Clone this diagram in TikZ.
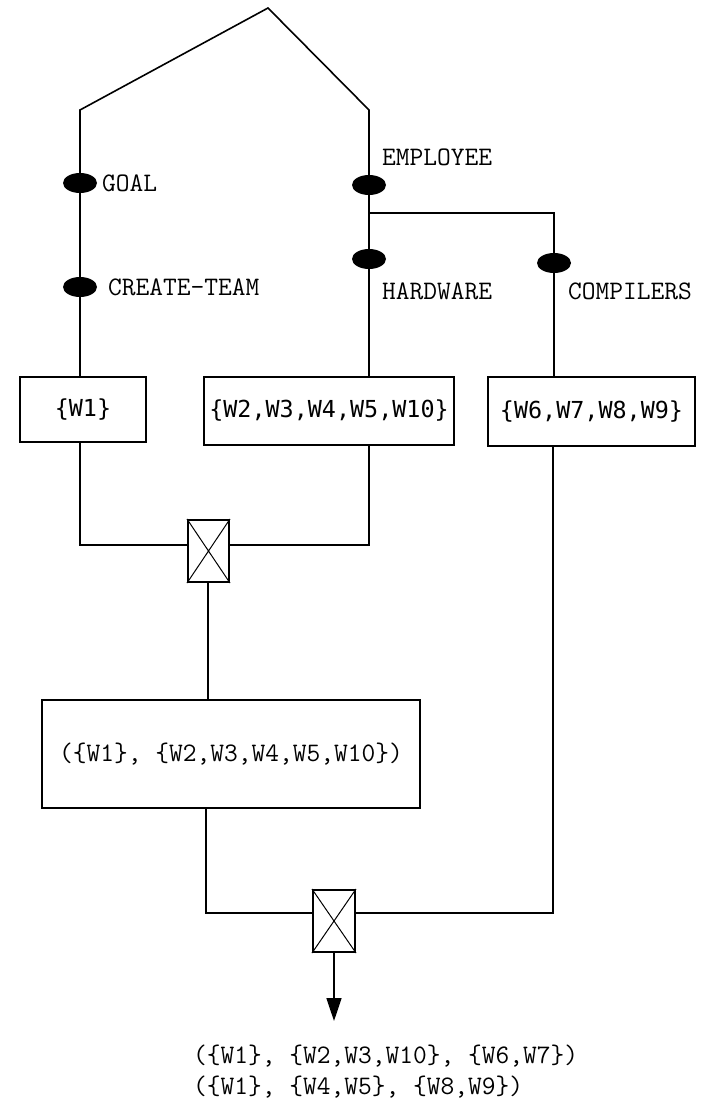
\documentclass[tikz,border=0pt]{standalone}
\usepackage{fontspec}
\newfontfamily\setfont{DejaVu Sans Mono}
\usetikzlibrary{shapes.geometric,arrows.meta}
\tikzset{
  wire/.style={line width=1.6pt},
  term/.style={ellipse, fill=black, minimum width=34pt, minimum height=20pt, inner sep=0pt},
  lbl/.style={anchor=west, inner sep=0pt, font=\ttfamily\fontsize{26.7}{30}\selectfont},
  setbox/.style={draw, line width=1.8pt, inner sep=0pt, font=\setfont\fontsize{23.4}{28}\selectfont},
  joinbox/.style={draw, line width=2pt, minimum width=41pt, minimum height=62pt, inner sep=0pt},
  outtxt/.style={anchor=west, inner sep=0pt, font=\ttfamily\fontsize{26.7}{30}\selectfont}
}
\newcommand{\crossbox}[1]{%
  \draw[line width=1pt] (#1.north west) -- (#1.south east) (#1.north east) -- (#1.south west);}
\begin{document}
\begin{tikzpicture}[x=1pt, y=-1pt]
\useasboundingbox (0,0) rectangle (707,1102);

% roof of the tree
\coordinate (apex) at (268,8);
\coordinate (lcorner) at (80,110);
\coordinate (rcorner) at (369,110);
\coordinate (fork) at (369,213);

% path terms
\node[term] (goal) at (80,183) {};
\node[term] (ct) at (80,287) {};
\node[term] (emp) at (369,185) {};
\node[term] (hw) at (369,259) {};
\node[term] (comp) at (554,263) {};

\node[lbl] at (102,183) {GOAL};
\node[lbl] at (108,287) {CREATE-TEAM};
\node[lbl] at (382,157) {EMPLOYEE};
\node[lbl] at (382,291) {HARDWARE};
\node[lbl] at (568,291) {COMPILERS};

% value sets
\node[setbox, minimum width=126pt, minimum height=65pt] (w1) at (83,409.5) {\{W1\}};
\node[setbox, minimum width=250pt, minimum height=68pt] (w2) at (329,411) {\{W2,W3,W4,W5,W10\}};
\node[setbox, minimum width=207pt, minimum height=69pt] (w6) at (591.5,411.5) {\{W6,W7,W8,W9\}};

% joins
\node[joinbox] (j1) at (208.5,551) {};
\crossbox{j1}
\node[joinbox, minimum width=42pt] (j2) at (334,921) {};
\crossbox{j2}

\node[draw, line width=1.8pt, minimum width=378pt, minimum height=108pt, inner sep=0pt,
      font=\ttfamily\fontsize{26.7}{30}\selectfont] (big) at (231,754) {(\{W1\}, \{W2,W3,W4,W5,W10\})};

% connectors
\draw[wire] (goal) -- (lcorner) -- (apex) -- (rcorner) -- (emp);
\draw[wire] (goal) -- (ct);
\draw[wire] (ct) -- (ct |- w1.north);
\draw[wire] (emp) -- (hw);
\draw[wire] (fork) -| (comp);
\draw[wire] (hw) -- (hw |- w2.north);
\draw[wire] (comp) -- (comp |- w6.north);

\draw[wire] (w1.south -| ct) |- ([yshift=6pt]j1.west);
\draw[wire] (w2.south -| hw) |- ([yshift=6pt]j1.east);
\draw[wire] ([xshift=-0.5pt]j1.south) -- ([xshift=-0.5pt]j1.south |- big.north);

\draw[wire] ([xshift=-25pt]big.south) |- ([yshift=8pt]j2.west);
\draw[wire] ([xshift=-38.5pt]w6.south) |- ([yshift=8pt]j2.east);
\draw[wire, -{Triangle[length=23pt,width=15pt]}] (j2.south) -- ++(0,68);

\node[outtxt] (r1) at (193,1056) {(\{W1\}, \{W2,W3,W10\}, \{W6,W7\})};
\node[outtxt] (r2) at (193,1087) {(\{W1\}, \{W4,W5\}, \{W8,W9\})};
\end{tikzpicture}
\end{document}
